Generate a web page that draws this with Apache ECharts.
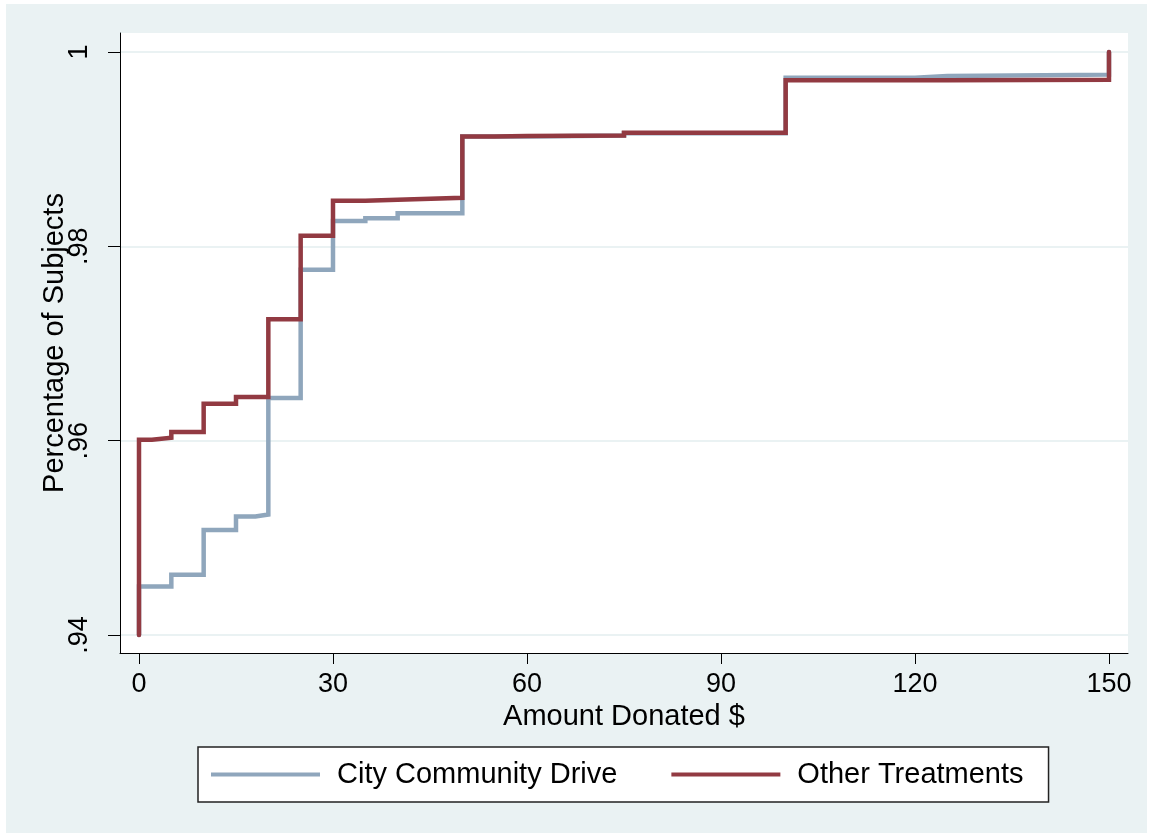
<!DOCTYPE html>
<html>
<head>
<meta charset="utf-8">
<script src="https://cdn.jsdelivr.net/npm/echarts@6/dist/echarts.min.js"></script>
<style>
  html, body { margin: 0; padding: 0; background: #ffffff; }
  #bg { position: absolute; left: 6px; top: 4px; width: 1141px; height: 829px; background: #eaf2f3; }
  #chart { position: absolute; left: 0; top: 0; width: 1153px; height: 837px; }
</style>
</head>
<body>
<div id="bg"></div>
<div id="chart"></div>
<script>
// ---- data ----
const xTicks = [0, 30, 60, 90, 120, 150];
const yTicks = [0.94, 0.96, 0.98, 1];
const seriesNames = ['City Community Drive', 'Other Treatments'];

const cityX = [0, 0, 5, 10, 15, 18, 20, 25, 30, 35, 40, 50, 60, 75, 100, 120, 125, 150];
const cityY = [0.94, 0.9450, 0.9462, 0.9508, 0.9522, 0.9524, 0.9644, 0.9776, 0.9826, 0.9829, 0.9834, 0.9913, 0.9914, 0.99165, 0.99736, 0.99753, 0.99767, 1];

const otherX = [0, 0, 2, 5, 10, 15, 20, 25, 30, 35, 40, 50, 55, 60, 75, 100, 125, 150];
const otherY = [0.94, 0.9601, 0.9603, 0.9609, 0.9638, 0.9645, 0.9725, 0.9811, 0.9847, 0.9848, 0.9850, 0.9913, 0.99135, 0.9914, 0.9917, 0.9971, 0.99715, 1];

const FONT = '"Liberation Sans", Arial, Helvetica, sans-serif';
const chart = echarts.init(document.getElementById('chart'), null, { renderer: 'canvas' });

const toPairs = (xs, ys) => xs.map((x, i) => [x, ys[i]]);

chart.setOption({
  animation: false,
  backgroundColor: 'transparent',
  textStyle: { fontFamily: FONT, color: '#000' },
  grid: {
    left: 120, right: 25, top: 33, bottom: 184,
    show: true, backgroundColor: '#ffffff', borderWidth: 0
  },
  xAxis: {
    type: 'value',
    min: -2.938, max: 152.94,
    name: 'Amount Donated $',
    nameLocation: 'middle',
    nameGap: 49,
    nameMoveOverlap: false,
    nameTextStyle: { fontSize: 29, color: '#000', fontFamily: FONT },
    axisLine: { show: true, onZero: false, lineStyle: { color: '#000', width: 1 } },
    axisTick: { show: true, length: 11, customValues: xTicks, lineStyle: { color: '#000', width: 1 } },
    axisLabel: { customValues: xTicks, fontSize: 27, color: '#000', margin: 18, fontFamily: FONT },
    splitLine: { show: false }
  },
  yAxis: {
    type: 'value',
    min: 0.9381475, max: 1.0019554,
    name: 'Percentage of Subjects',
    nameLocation: 'middle',
    nameGap: 51,
    nameMoveOverlap: false,
    nameRotate: 90,
    nameTextStyle: { fontSize: 29, color: '#000', fontFamily: FONT },
    axisLine: { show: true, onZero: false, lineStyle: { color: '#000', width: 1 } },
    axisTick: { show: true, length: 12, customValues: yTicks, lineStyle: { color: '#000', width: 1 } },
    axisLabel: {
      customValues: yTicks, rotate: 90, fontSize: 27, color: '#000', margin: 27, fontFamily: FONT,
      formatter: v => String(v).replace(/^0\./, '.')
    },
    splitLine: { show: true, lineStyle: { color: '#eaf2f3', width: 2 } }
  },
  legend: {
    left: 198, top: 747,
    orient: 'horizontal',
    backgroundColor: '#ffffff',
    borderColor: '#222',
    borderWidth: 1.5,
    borderRadius: 0,
    padding: [13, 25, 13, 13],
    itemGap: 54,
    itemWidth: 109,
    itemHeight: 4,
    icon: 'rect',
    textStyle: { fontSize: 29, color: '#000', fontFamily: FONT, padding: [0, 0, 0, 12] },
    data: seriesNames
  },
  series: [
    {
      name: seriesNames[0], type: 'line', step: 'end', showSymbol: false, symbol: 'none',
      data: toPairs(cityX, cityY),
      lineStyle: { color: '#8fa6bc', width: 4.5, cap: 'round', join: 'miter' },
      itemStyle: { color: '#8fa6bc' },
      z: 2
    },
    {
      name: seriesNames[1], type: 'line', step: 'end', showSymbol: false, symbol: 'none',
      data: toPairs(otherX, otherY),
      lineStyle: { color: '#923a42', width: 4.5, cap: 'round', join: 'miter' },
      itemStyle: { color: '#923a42' },
      z: 3
    }
  ]
});
</script>
</body>
</html>
